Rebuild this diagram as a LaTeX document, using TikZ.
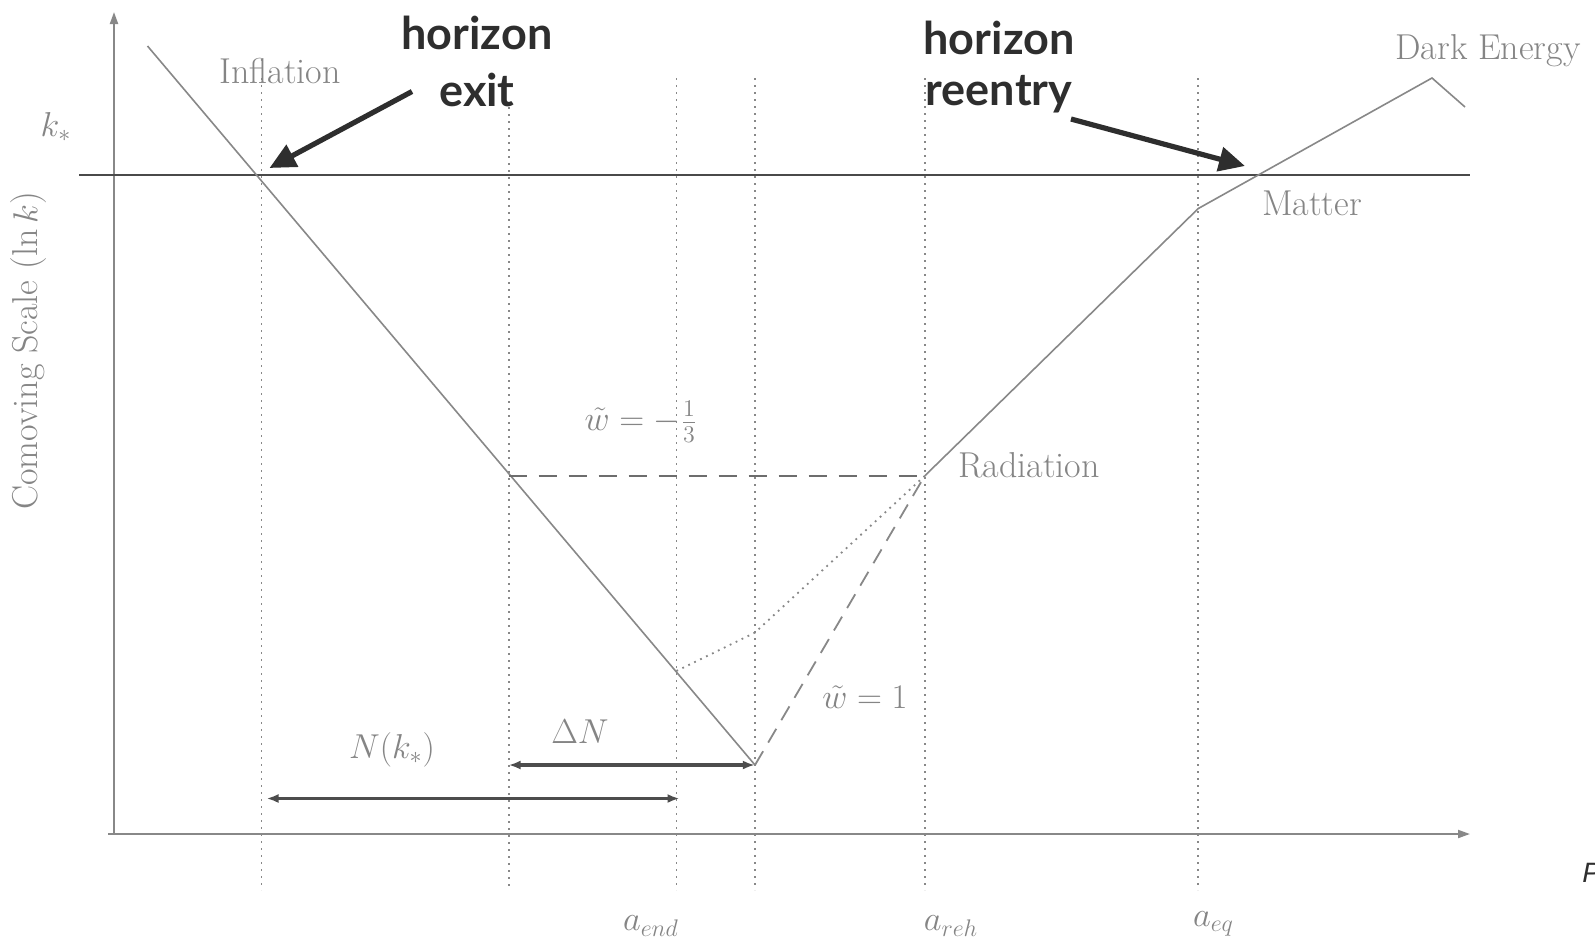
\documentclass[tikz,border=0pt]{standalone}
\usepackage{fontspec}
\newfontfamily\gill{Lato}
\newfontfamily\arialf{Liberation Sans}
\usetikzlibrary{arrows.meta}
\definecolor{lgray}{HTML}{888888}
\definecolor{tgray}{HTML}{858585}
\definecolor{kline}{HTML}{4A4A4A}
\definecolor{dark}{HTML}{2E2E2E}
\tikzset{
  curveline/.style={draw=lgray, line width=0.8pt},
  axisline/.style={draw=lgray, line width=1pt, -{Triangle[length=6pt,width=4pt]}},
  guide/.style={draw=lgray, line width=0.9pt, dash pattern=on 0.9pt off 2.6pt},
  lbl/.style={text=tgray, font=\fontsize{18}{21}\selectfont, inner sep=0pt},
  big/.style={text=dark, font=\gill\bfseries\fontsize{22.5}{26}\selectfont, inner sep=0pt},
  callout/.style={draw=dark, line width=2.6pt, -{Triangle[length=13pt,width=12pt]}},
  span/.style={draw=dark!85, line width=1.6pt, {Latex[length=6pt,width=4.5pt]}-{Latex[length=6pt,width=4.5pt]}}
}
\begin{document}
\begin{tikzpicture}[x=0.5pt,y=-0.5pt]
\useasboundingbox (0,0) rectangle (1595,939);
\fill[white] (0,0) rectangle (1595,939);
% key points
\coordinate (O) at (114,834);
\coordinate (Ytop) at (114,12);
\coordinate (Xend) at (1470,834);
\coordinate (Kl) at (79,175);
\coordinate (Kr) at (1470,175);
\coordinate (I0) at (147.5,46);
\coordinate (Rmin) at (755,765);
\coordinate (Rad) at (924.6,476);
\coordinate (Hl) at (508.6,476);
\coordinate (Eq) at (1198.3,208.5);
\coordinate (DE) at (1432,78);
\coordinate (DEend) at (1465,107);
\coordinate (End) at (676.4,671);
\coordinate (Mid) at (754.8,632.7);
% dotted verticals
\foreach \xx/\yt in {261.5/78, 508.6/107, 676.4/78, 754.8/78, 924.6/78, 1198.3/78}{
  \draw[guide] (\xx,\yt) -- (\xx,890);
}
% axes
\draw[axisline] ([xshift=-3pt]O) -- (Xend);
\draw[axisline] (O) -- (Ytop);
% k* line
\draw[draw=kline, line width=0.8pt] (Kl) -- (Kr);
% comoving curve
\draw[curveline] (I0) -- (Rmin);
\draw[curveline] (Rad) -- (Eq) -- (DE) -- (DEend);
% dashed / dotted alternatives
\draw[draw=dark!70, line width=1.1pt, dash pattern=on 9pt off 6pt] (Hl) -- (Rad);
\draw[draw=lgray, line width=0.9pt, dash pattern=on 8pt off 5pt] (Rmin) -- (Rad);
\draw[draw=lgray, line width=0.9pt, dash pattern=on 0.9pt off 2.4pt] (End) -- (Mid) -- (Rad);
% spans
\coordinate (DNl) at (508.6,765); \coordinate (DNr) at (754.8,765);
\coordinate (NKl) at (266.5,798.5); \coordinate (NKr) at (679.5,798.5);
\draw[span] (DNl) -- (DNr);
\draw[span] (NKl) -- (NKr);
% callouts
\coordinate (ExS) at (412,91.5); \coordinate (ExE) at (269.5,168);
\coordinate (ReS) at (1071,119); \coordinate (ReE) at (1245,166);
\draw[callout] (ExS) -- (ExE);
\draw[callout] (ReS) -- (ReE);
% labels
\node[lbl] (infl) at (280,71) {Inflation};
\node[lbl] (kstar) at (56,127) {$k_*$};
\node[big] (hz1) at (477,32.5) {horizon};
\node[big] (hz2) at (477,89.5) {exit};
\node[big] (hz3) at (999,37.6) {horizon};
\node[big] (hz4) at (999,94.6) {reentry};
\node[lbl] (de) at (1488,51) {Dark Energy};
\node[lbl] (mat) at (1312,203) {Matter};
\node[lbl] (rad) at (1029,465) {Radiation};
\node[lbl] (wm) at (641,422) {$\tilde w = -\frac{1}{3}$};
\node[lbl] (w1) at (865,697) {$\tilde w = 1$};
\node[lbl] (dn) at (580,732) {$\Delta N$};
\node[lbl] (nk) at (392,750) {$N(k_*)$};
\node[lbl] (aend) at (651,926) {$a_{end}$};
\node[lbl] (areh) at (951,926) {$a_{reh}$};
\node[lbl] (aeq) at (1213.5,924) {$a_{eq}$};
\node[lbl, rotate=90] (ylab) at (28.5,351) {Comoving Scale ($\ln k$)};
\node[text=dark, font=\arialf\itshape\fontsize{14}{16}\selectfont, inner sep=0pt, anchor=west] (pp) at (1582,873) {P};
\end{tikzpicture}
\end{document}
